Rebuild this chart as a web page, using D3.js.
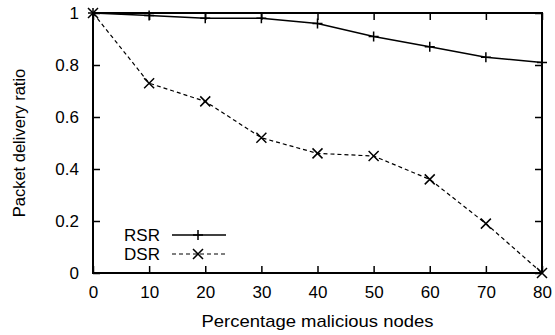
<!DOCTYPE html>
<html>
<head>
	<title>Packet delivery ratio</title>
	<script src="https://cdn.jsdelivr.net/npm/d3@7/dist/d3.min.js"></script>
	<style>
		body { margin: 0; background: #fff; }
		text { font-family: "Liberation Sans", Arial, sans-serif; fill: #000; }
	</style>
</head>
<body>
	<svg id="chart" width="555" height="335"></svg>
	<script>
		// data
		var malicious = [0, 10, 20, 30, 40, 50, 60, 70, 80];
		var rsr = [1, 0.99, 0.98, 0.98, 0.96, 0.91, 0.87, 0.83, 0.81];
		var dsr = [1, 0.73, 0.66, 0.52, 0.46, 0.45, 0.36, 0.19, 0];
		var xTicks = [0, 10, 20, 30, 40, 50, 60, 70, 80];
		var yTicks = [0, 0.2, 0.4, 0.6, 0.8, 1];

		var svg = d3.select('#chart');
		var x0 = 93, x1 = 542, y0 = 13, y1 = 273;

		var x = d3.scaleLinear().domain([0, 80]).range([x0, x1]);
		var y = d3.scaleLinear().domain([0, 1]).range([y1, y0]);

		// axes with inward ticks, mirrored on top/right
		var fmt = d => d === 0 || d === 1 ? String(d) : d3.format('.1f')(d);
		svg.append('g').attr('transform', 'translate(0,' + y1 + ')')
			.call(d3.axisBottom(x).tickValues(xTicks).tickSize(-7).tickPadding(13).tickFormat(d3.format('d')))
			.call(g => g.select('.domain').remove());
		svg.append('g').attr('transform', 'translate(0,' + y0 + ')')
			.call(d3.axisTop(x).tickValues(xTicks).tickSize(-7).tickFormat(''))
			.call(g => g.select('.domain').remove());
		svg.append('g').attr('transform', 'translate(' + x0 + ',0)')
			.call(d3.axisLeft(y).tickValues(yTicks).tickSize(-7).tickPadding(14).tickFormat(fmt))
			.call(g => g.select('.domain').remove());
		svg.append('g').attr('transform', 'translate(' + x1 + ',0)')
			.call(d3.axisRight(y).tickValues(yTicks).tickSize(-7).tickFormat(''))
			.call(g => g.select('.domain').remove());

		svg.selectAll('.tick line').attr('stroke', '#000').attr('stroke-width', 1.5);
		svg.selectAll('.tick text').style('font-size', '17px');

		svg.append('rect')
			.attr('x', x0).attr('y', y0)
			.attr('width', x1 - x0).attr('height', y1 - y0)
			.attr('fill', 'none').attr('stroke', '#000').attr('stroke-width', 2);

		// axis titles
		svg.append('text')
			.attr('x', (x0 + x1) / 2).attr('y', 327)
			.attr('text-anchor', 'middle').style('font-size', '17px')
			.attr('textLength', 232).attr('lengthAdjust', 'spacingAndGlyphs')
			.text('Percentage malicious nodes');
		svg.append('text')
			.attr('transform', 'translate(25,' + ((y0 + y1) / 2) + ') rotate(-90)')
			.attr('text-anchor', 'middle').style('font-size', '16.5px')
			.text('Packet delivery ratio');

		var line = d3.line().x((d, i) => x(malicious[i])).y(d => y(d));

		function plus(g, cx, cy) {
			g.append('path').attr('d', 'M' + (cx - 5) + ',' + cy + 'H' + (cx + 5) + 'M' + cx + ',' + (cy - 5) + 'V' + (cy + 5))
				.attr('stroke', '#000').attr('stroke-width', 1.5);
		}
		function cross(g, cx, cy) {
			g.append('path').attr('d', 'M' + (cx - 5) + ',' + (cy - 5) + 'L' + (cx + 5) + ',' + (cy + 5) + 'M' + (cx - 5) + ',' + (cy + 5) + 'L' + (cx + 5) + ',' + (cy - 5))
				.attr('stroke', '#000').attr('stroke-width', 1.5);
		}

		svg.append('path').datum(rsr).attr('d', line)
			.attr('fill', 'none').attr('stroke', '#000').attr('stroke-width', 1.5);
		svg.append('path').datum(dsr).attr('d', line)
			.attr('fill', 'none').attr('stroke', '#000').attr('stroke-width', 1.2)
			.attr('stroke-dasharray', '4,3');

		var marks = svg.append('g');
		rsr.forEach((v, i) => plus(marks, x(malicious[i]), y(v)));
		dsr.forEach((v, i) => cross(marks, x(malicious[i]), y(v)));

		// legend
		var legend = [{ name: 'RSR', dash: null, mark: plus }, { name: 'DSR', dash: '4,3', mark: cross }];
		legend.forEach((d, i) => {
			var ly = 235 + i * 19;
			svg.append('text').attr('x', 160).attr('y', ly + 6)
				.attr('text-anchor', 'end').style('font-size', '17px').text(d.name);
			svg.append('line').attr('x1', 172).attr('x2', 226).attr('y1', ly).attr('y2', ly)
				.attr('stroke', '#000').attr('stroke-width', d.dash ? 1.2 : 1.5)
				.attr('stroke-dasharray', d.dash);
			d.mark(svg, 198, ly);
		});
	</script>
</body>
</html>
